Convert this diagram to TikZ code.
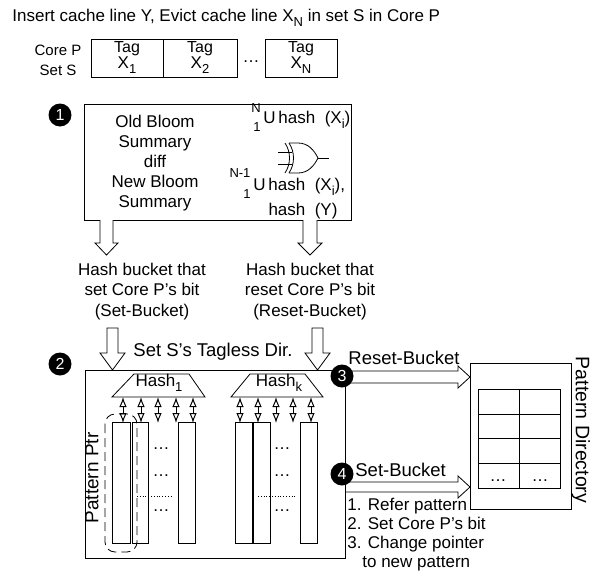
\documentclass[tikz,border=0pt]{standalone}
\usepackage{fontspec}
\setmainfont{Liberation Sans}
\usetikzlibrary{arrows.meta}
\newcommand\lsub[1]{\raisebox{-0.32em}{\fontsize{13}{13}\selectfont #1}}
\newcommand\apos{\char"27\relax}
\begin{document}
\begin{tikzpicture}[x=1pt,y=-1pt, line width=0.8pt,
  every node/.style={inner sep=0pt, font=\fontsize{17}{20}\selectfont},
  small/.style={font=\fontsize{13}{13}\selectfont},
  big/.style={font=\fontsize{18.5}{20}\selectfont},
  num/.style={circle, fill=black, minimum size=23pt, text=white, font=\fontsize{16}{16}\selectfont},
  hollow/.style={draw, fill=white, line join=miter},
  col/.style={draw, fill=white},
  dbl/.style={line width=1pt, {Latex[open,length=10pt,width=7.5pt]}-{Latex[open,length=10pt,width=7.5pt]}},
]
\useasboundingbox (0,0) rectangle (603,579);

% title
\node[anchor=base west] (title) at (12,21) {Insert cache line Y, Evict cache line X\lsub{N} in set S in Core P};

% tag row
\node[anchor=base, font=\fontsize{15}{15}\selectfont] (coreP) at (58,55) {Core P};
\node[anchor=base, font=\fontsize{15}{15}\selectfont] (setS) at (58,75) {Set S};
\draw (91,39) rectangle (237,77) (163,39) -- (163,77);
\draw (265,39) rectangle (337,77);
\node[anchor=base, font=\fontsize{16}{16}\selectfont] (tag1) at (127,52) {Tag};
\node[anchor=base, font=\fontsize{16}{16}\selectfont] (tag2) at (200,52) {Tag};
\node[anchor=base, font=\fontsize{16}{16}\selectfont] (tagN) at (301,52) {Tag};
\node[anchor=base] (x1) at (127,68) {X\lsub{1}};
\node[anchor=base] (x2) at (200,68) {X\lsub{2}};
\node[anchor=base] (xN) at (301,68) {X\lsub{N}};
\node[anchor=base] (tdots) at (251,62) {…};

% step 1 box
\draw (84,104) rectangle (351,220);
\node[anchor=base] (l1) at (155,127) {Old Bloom};
\node[anchor=base] (l2) at (155,147) {Summary};
\node[anchor=base] (l3) at (155,167) {diff};
\node[anchor=base] (l4) at (155,187) {New Bloom};
\node[anchor=base] (l5) at (155,207) {Summary};

\node[anchor=base west] (u1) at (263,123) {U\,hash\ \ (X\lsub{i})};
\node[small, anchor=base] (u1sup) at (256,112) {N};
\node[small, anchor=base] (u1sub) at (257,131) {1};
\node[anchor=base west] (u2) at (253,190) {U\,hash\ \ (X\lsub{i}),};
\node[small, anchor=base] (u2sup) at (240,177) {N-1};
\node[small, anchor=base] (u2sub) at (247,198) {1};
\node[anchor=base] (hy) at (303,215) {hash\ \ (Y)};

% XOR gate
\draw (278,152) -- (292,152) (278,164) -- (292,164);
\draw (285,143) .. controls (291,152) and (291,164) .. (285,173);
\draw (289,143) .. controls (295,152) and (295,164) .. (289,173);
\draw (289,143) -- (298,143) .. controls (308,143) and (314,150) .. (318,158)
      .. controls (314,166) and (308,173) .. (298,173) -- (289,173);
\draw (318,158) -- (329,158);

% hollow arrows out of box 1
\draw[hollow] (100,220) -- (100,243) -- (95,243) -- (106.5,255) -- (118,243) -- (113,243) -- (113,220);
\draw[hollow] (303,220) -- (303,243) -- (298,243) -- (310,255) -- (322,243) -- (317,243) -- (317,220);

\node[anchor=base] (sb1) at (142,275) {Hash bucket that};
\node[anchor=base] (sb2) at (142,295) {set Core P\apos s bit};
\node[anchor=base] (sb3) at (142,316) {(Set-Bucket)};
\node[anchor=base] (rb1) at (310,275) {Hash bucket that};
\node[anchor=base] (rb2) at (310,295) {reset Core P\apos s bit};
\node[anchor=base] (rb3) at (310,316) {(Reset-Bucket)};

% horizontal arrows to pattern directory
\draw[hollow] (345,371) -- (458,371) -- (458,366) -- (470,377) -- (458,388) -- (458,383) -- (345,383);
\draw[hollow] (345,482) -- (458,482) -- (458,476) -- (470,487) -- (458,498) -- (458,492) -- (345,492);

% box 2
\draw (85,370) rectangle (345,558);
\draw[hollow] (107,328) -- (118,328) -- (118,353) -- (125,353) -- (112.5,370) -- (100,353) -- (107,353) -- cycle;
\draw[hollow] (312,328) -- (323,328) -- (323,353) -- (330,353) -- (317.5,370) -- (305,353) -- (312,353) -- cycle;
\node[big, anchor=base] (tagless) at (213,356) {Set S\apos s Tagless Dir.};

% hash trapezoids
\draw (134,374) -- (189,374) -- (205,397) -- (112,397) -- cycle;
\draw (250,374) -- (305,374) -- (323,397) -- (231,397) -- cycle;
\node[anchor=base] (h1) at (159,386) {Hash\lsub{1}};
\node[anchor=base] (hk) at (279,386) {Hash\lsub{k}};

\foreach \x in {123,141,158,176,193,240,258,276,293,311}
  \draw[dbl] (\x,397) -- (\x,423);

% columns
\foreach \a/\b in {112/130,132/148,178/195,235/252,253/270,300/317}
  \draw[col] (\a,422) rectangle (\b,543);
\foreach \y in {449,476,511} {
  \node[anchor=base] at (161,\y) {…};
  \node[anchor=base] at (282,\y) {…};
}
\draw[dotted] (137,496) -- (173,496);
\draw[dotted] (258,496) -- (295,496);
\draw[dashed, dash pattern=on 9pt off 5pt, rounded corners=10pt] (105,414) rectangle (137,552);
\node[rotate=90, font=\fontsize{19}{19}\selectfont] (pptr) at (92,478) {Pattern Ptr};

% pattern directory
\draw (470,363) rectangle (571,509);
\draw (478,389) rectangle (560,488);
\draw (519,389) -- (519,488);
\foreach \y in {414,438,463} \draw (478,\y) -- (560,\y);
\node[anchor=base] (pd1) at (498,481) {…};
\node[anchor=base] (pd2) at (540,481) {…};
\node[rotate=-90, font=\fontsize{19.5}{20}\selectfont] (pdir) at (581,430) {Pattern Directory};

\node[big, anchor=base west] (reset) at (348,364) {Reset-Bucket};
\node[big, anchor=base west] (setb) at (355,476) {Set-Bucket};

\node[anchor=base west] (s1) at (347,510) {1. Refer pattern};
\node[anchor=base west] (s2) at (347,529) {2. Set Core P\apos s bit};
\node[anchor=base west] (s3) at (347,548) {3. Change pointer};
\node[anchor=base west] (s4) at (362,567) {to new pattern};

% numbered circles
\node[num] (c1) at (60,115) {1};
\node[num] (c2) at (60,364) {2};
\node[num] (c3) at (342,376) {3};
\node[num] (c4) at (342,474) {4};
\end{tikzpicture}
\end{document}
